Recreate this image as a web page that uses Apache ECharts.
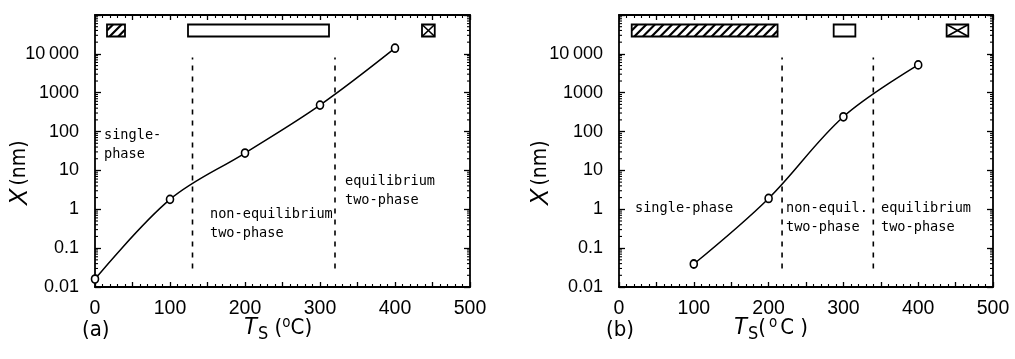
<!DOCTYPE html>
<html>
<head>
<meta charset="utf-8">
<script src="https://cdn.jsdelivr.net/npm/echarts@6/dist/echarts.min.js"></script>
<style>
html,body{margin:0;padding:0;background:#fff;}
#chart{width:1015px;height:359px;}
</style>
</head>
<body>
<div id="chart"></div>
<script>
// ---- data ----
const tempA = [0, 100, 200, 300, 400];
const sizeA = [0.016, 1.8, 28, 480, 14000];
const tempB = [100, 200, 300, 400];
const sizeB = [0.039, 1.9, 240, 5200];
const boundariesA = [130, 320];
const boundariesB = [218, 340];
const dashSpan = [0.03, 8000];
// phase boxes: [xStart, xEnd, pattern]
const boxesA = [[16, 40, 'hatch'], [124, 312, 'open'], [436, 453, 'cross']];
const boxesB = [[17, 212, 'hatch'], [287, 316, 'open'], [438, 467, 'cross']];
const boxSpan = [28000, 57000];
const yTickLabels = {'0.01':'0.01','0.1':'0.1','1':'1','10':'10','100':'100','1000':'1000','10000':'10\u2009000'};
const minorLogTicks = [];
for (let e = -2; e < 5; e++) for (let m = 2; m <= 9; m++) minorLogTicks.push(+(m * Math.pow(10, e)).toPrecision(3));

const chart = echarts.init(document.getElementById('chart'), null, {renderer: 'canvas'});

const narrow = "'Liberation Sans Narrow', 'DejaVu Sans Condensed', 'Liberation Sans', sans-serif";
const sans = "'Liberation Sans', sans-serif";

const grids = [
  {left: 95, top: 15, width: 375, height: 272},
  {left: 619, top: 15, width: 374, height: 272}
];

function xAxisFor(gi, pos) {
  return {
    type: 'value', gridIndex: gi, position: pos, min: 0, max: 500, interval: 50,
    axisLine: {show: true, onZero: false, lineStyle: {color: '#000', width: 1.8}},
    axisTick: {show: true, inside: true, length: 5, lineStyle: {color: '#000', width: 1.3}},
    minorTick: {show: true, splitNumber: 5, length: 3, lineStyle: {color: '#000', width: 1.1}},
    splitLine: {show: false},
    axisLabel: {
      show: pos === 'bottom', color: '#000', fontFamily: sans, fontSize: 19.5, margin: 12,
      formatter: v => (v % 100 === 0 ? String(v) : '')
    }
  };
}
function yAxisFor(gi, pos) {
  return {
    type: 'log', logBase: 10, gridIndex: gi, position: pos, min: 0.01, max: 100000, interval: 1,
    axisLine: {show: true, onZero: false, lineStyle: {color: '#000', width: 1.8}},
    axisTick: {show: true, inside: true, length: 6, lineStyle: {color: '#000', width: 1.3}},
    splitLine: {show: false},
    axisLabel: {
      show: pos === 'left', color: '#000', fontFamily: sans, fontSize: 18, margin: 16,
      formatter: v => {
        const k = String(+v.toPrecision(3));
        return yTickLabels[k] !== undefined ? yTickLabels[k] : '';
      }
    }
  };
}

function logMinorSeries(xi, yi) {
  return {
    type: 'custom', xAxisIndex: xi, yAxisIndex: yi, silent: true, clip: false, z: 3,
    data: minorLogTicks.map(v => [0, v]),
    renderItem: (params, api) => {
      const v = api.value(1);
      const pl = api.coord([0, v]);
      const pr = api.coord([500, v]);
      const st = {stroke: '#000', lineWidth: 1.1};
      return {type: 'group', children: [
        {type: 'line', shape: {x1: pl[0], y1: pl[1], x2: pl[0] + 3, y2: pl[1]}, style: st},
        {type: 'line', shape: {x1: pr[0], y1: pr[1], x2: pr[0] - 3, y2: pr[1]}, style: st}
      ]};
    }
  };
}

function boxSeries(xi, yi, boxes) {
  return {
    type: 'custom', xAxisIndex: xi, yAxisIndex: yi, silent: true, clip: false, z: 4,
    data: boxes.map(b => [b[0], b[1], boxSpan[0], boxSpan[1]]),
    renderItem: (params, api) => {
      const p0 = api.coord([api.value(0), api.value(3)]);
      const p1 = api.coord([api.value(1), api.value(2)]);
      const x0 = p0[0], y0 = p0[1], x1 = p1[0], y1 = p1[1];
      const pat = boxes[params.dataIndex][2];
      const st = {stroke: '#000', lineWidth: 1.6, fill: null};
      const children = [{type: 'rect', shape: {x: x0, y: y0, width: x1 - x0, height: y1 - y0}, style: {stroke: '#000', lineWidth: 1.8, fill: '#fff'}}];
      if (pat === 'cross') {
        children.push({type: 'line', shape: {x1: x0, y1: y0, x2: x1, y2: y1}, style: st});
        children.push({type: 'line', shape: {x1: x0, y1: y1, x2: x1, y2: y0}, style: st});
      } else if (pat === 'hatch') {
        const step = 8.6;
        for (let c = x0 + y0 + step * 0.7; c < x1 + y1 - 1; c += step) {
          const xa = Math.max(x0, c - y1), xb = Math.min(x1, c - y0);
          if (xb > xa) children.push({type: 'line', shape: {x1: xa, y1: c - xa, x2: xb, y2: c - xb}, style: {stroke: '#000', lineWidth: 2.2}});
        }
      }
      return {type: 'group', children};
    }
  };
}

function dashSeries(xi, yi, xs) {
  return xs.map(x => ({
    type: 'line', xAxisIndex: xi, yAxisIndex: yi, silent: true, symbol: 'none',
    data: [[x, dashSpan[0]], [x, dashSpan[1]]],
    lineStyle: {color: '#000', width: 1.6, type: [5, 6]}
  }));
}

function curveSeries(xi, yi, xs, ys) {
  return {
    type: 'line', xAxisIndex: xi, yAxisIndex: yi, smooth: 0.35,
    data: xs.map((x, i) => [x, ys[i]]),
    symbol: 'circle', symbolSize: [7, 8], showAllSymbol: true,
    itemStyle: {color: '#fff', borderColor: '#000', borderWidth: 1.7},
    lineStyle: {color: '#000', width: 1.5}, z: 5
  };
}

const txt = {fontFamily: 'DejaVu Sans Mono', fontSize: 13.6, fill: '#000', lineHeight: 19};
const big = {fontFamily: narrow, fontSize: 22, fill: '#000'};

function xTitle(left, top, gap, wide) {
  const pad = wide ? 3 : 0;
  return {type: 'text', left, top, style: {
    rich: {
      t: {fontFamily: 'Liberation Sans', fontStyle: 'italic', fontSize: 23, fill: '#000'},
      s: {fontFamily: narrow, fontSize: 18, fill: '#000', padding: [12, 0, 0, 1]},
      p: {fontFamily: narrow, fontSize: 22, fill: '#000', padding: [0, pad, 0, 0]},
      o: {fontFamily: narrow, fontSize: 15, fill: '#000', padding: [0, pad, 9, 0]},
      n: {fontFamily: narrow, fontSize: 22, fill: '#000', padding: [0, pad * 2, 0, 0]},
      q: {fontFamily: narrow, fontSize: 22, fill: '#000'}
    },
    text: '{t|T}{s|S}{p|' + gap + '(}{o|o}{n|C}{q|)}'
  }};
}
function yTitle(x, y) {
  return {type: 'text', x, y, rotation: Math.PI / 2, style: {
    rich: {
      t: {fontFamily: 'Liberation Sans', fontStyle: 'italic', fontSize: 25, fill: '#000'},
      n: {fontFamily: narrow, fontSize: 21, fill: '#000'}
    },
    text: '{t|X} {n|(nm)}', align: 'center', verticalAlign: 'middle'
  }};
}

const option = {
  backgroundColor: '#fff',
  animation: false,
  grid: grids,
  xAxis: [xAxisFor(0, 'bottom'), xAxisFor(0, 'top'), xAxisFor(1, 'bottom'), xAxisFor(1, 'top')],
  yAxis: [yAxisFor(0, 'left'), yAxisFor(0, 'right'), yAxisFor(1, 'left'), yAxisFor(1, 'right')],
  series: [
    logMinorSeries(0, 0), logMinorSeries(2, 2),
    boxSeries(0, 0, boxesA), boxSeries(2, 2, boxesB),
    ...dashSeries(0, 0, boundariesA), ...dashSeries(2, 2, boundariesB),
    curveSeries(0, 0, tempA, sizeA), curveSeries(2, 2, tempB, sizeB)
  ],
  graphic: [
    {type: 'text', left: 104, top: 126, style: Object.assign({text: 'single-\nphase'}, txt)},
    {type: 'text', left: 210, top: 205, style: Object.assign({text: 'non-equilibrium\ntwo-phase'}, txt)},
    {type: 'text', left: 345, top: 172, style: Object.assign({text: 'equilibrium\ntwo-phase'}, txt)},
    {type: 'text', left: 635, top: 199, style: Object.assign({text: 'single-phase'}, txt)},
    {type: 'text', left: 786, top: 199, style: Object.assign({text: 'non-equil.\ntwo-phase'}, txt)},
    {type: 'text', left: 881, top: 199, style: Object.assign({text: 'equilibrium\ntwo-phase'}, txt)},
    {type: 'text', left: 82, top: 319, style: Object.assign({text: '(a)'}, big)},
    {type: 'text', left: 606, top: 319, style: Object.assign({text: '(b)'}, big)},
    xTitle(243, 316, ' ', false),
    xTitle(733, 316, '', true),
    yTitle(20, 173),
    yTitle(541, 173)
  ]
};
chart.setOption(option);
</script>
</body>
</html>
